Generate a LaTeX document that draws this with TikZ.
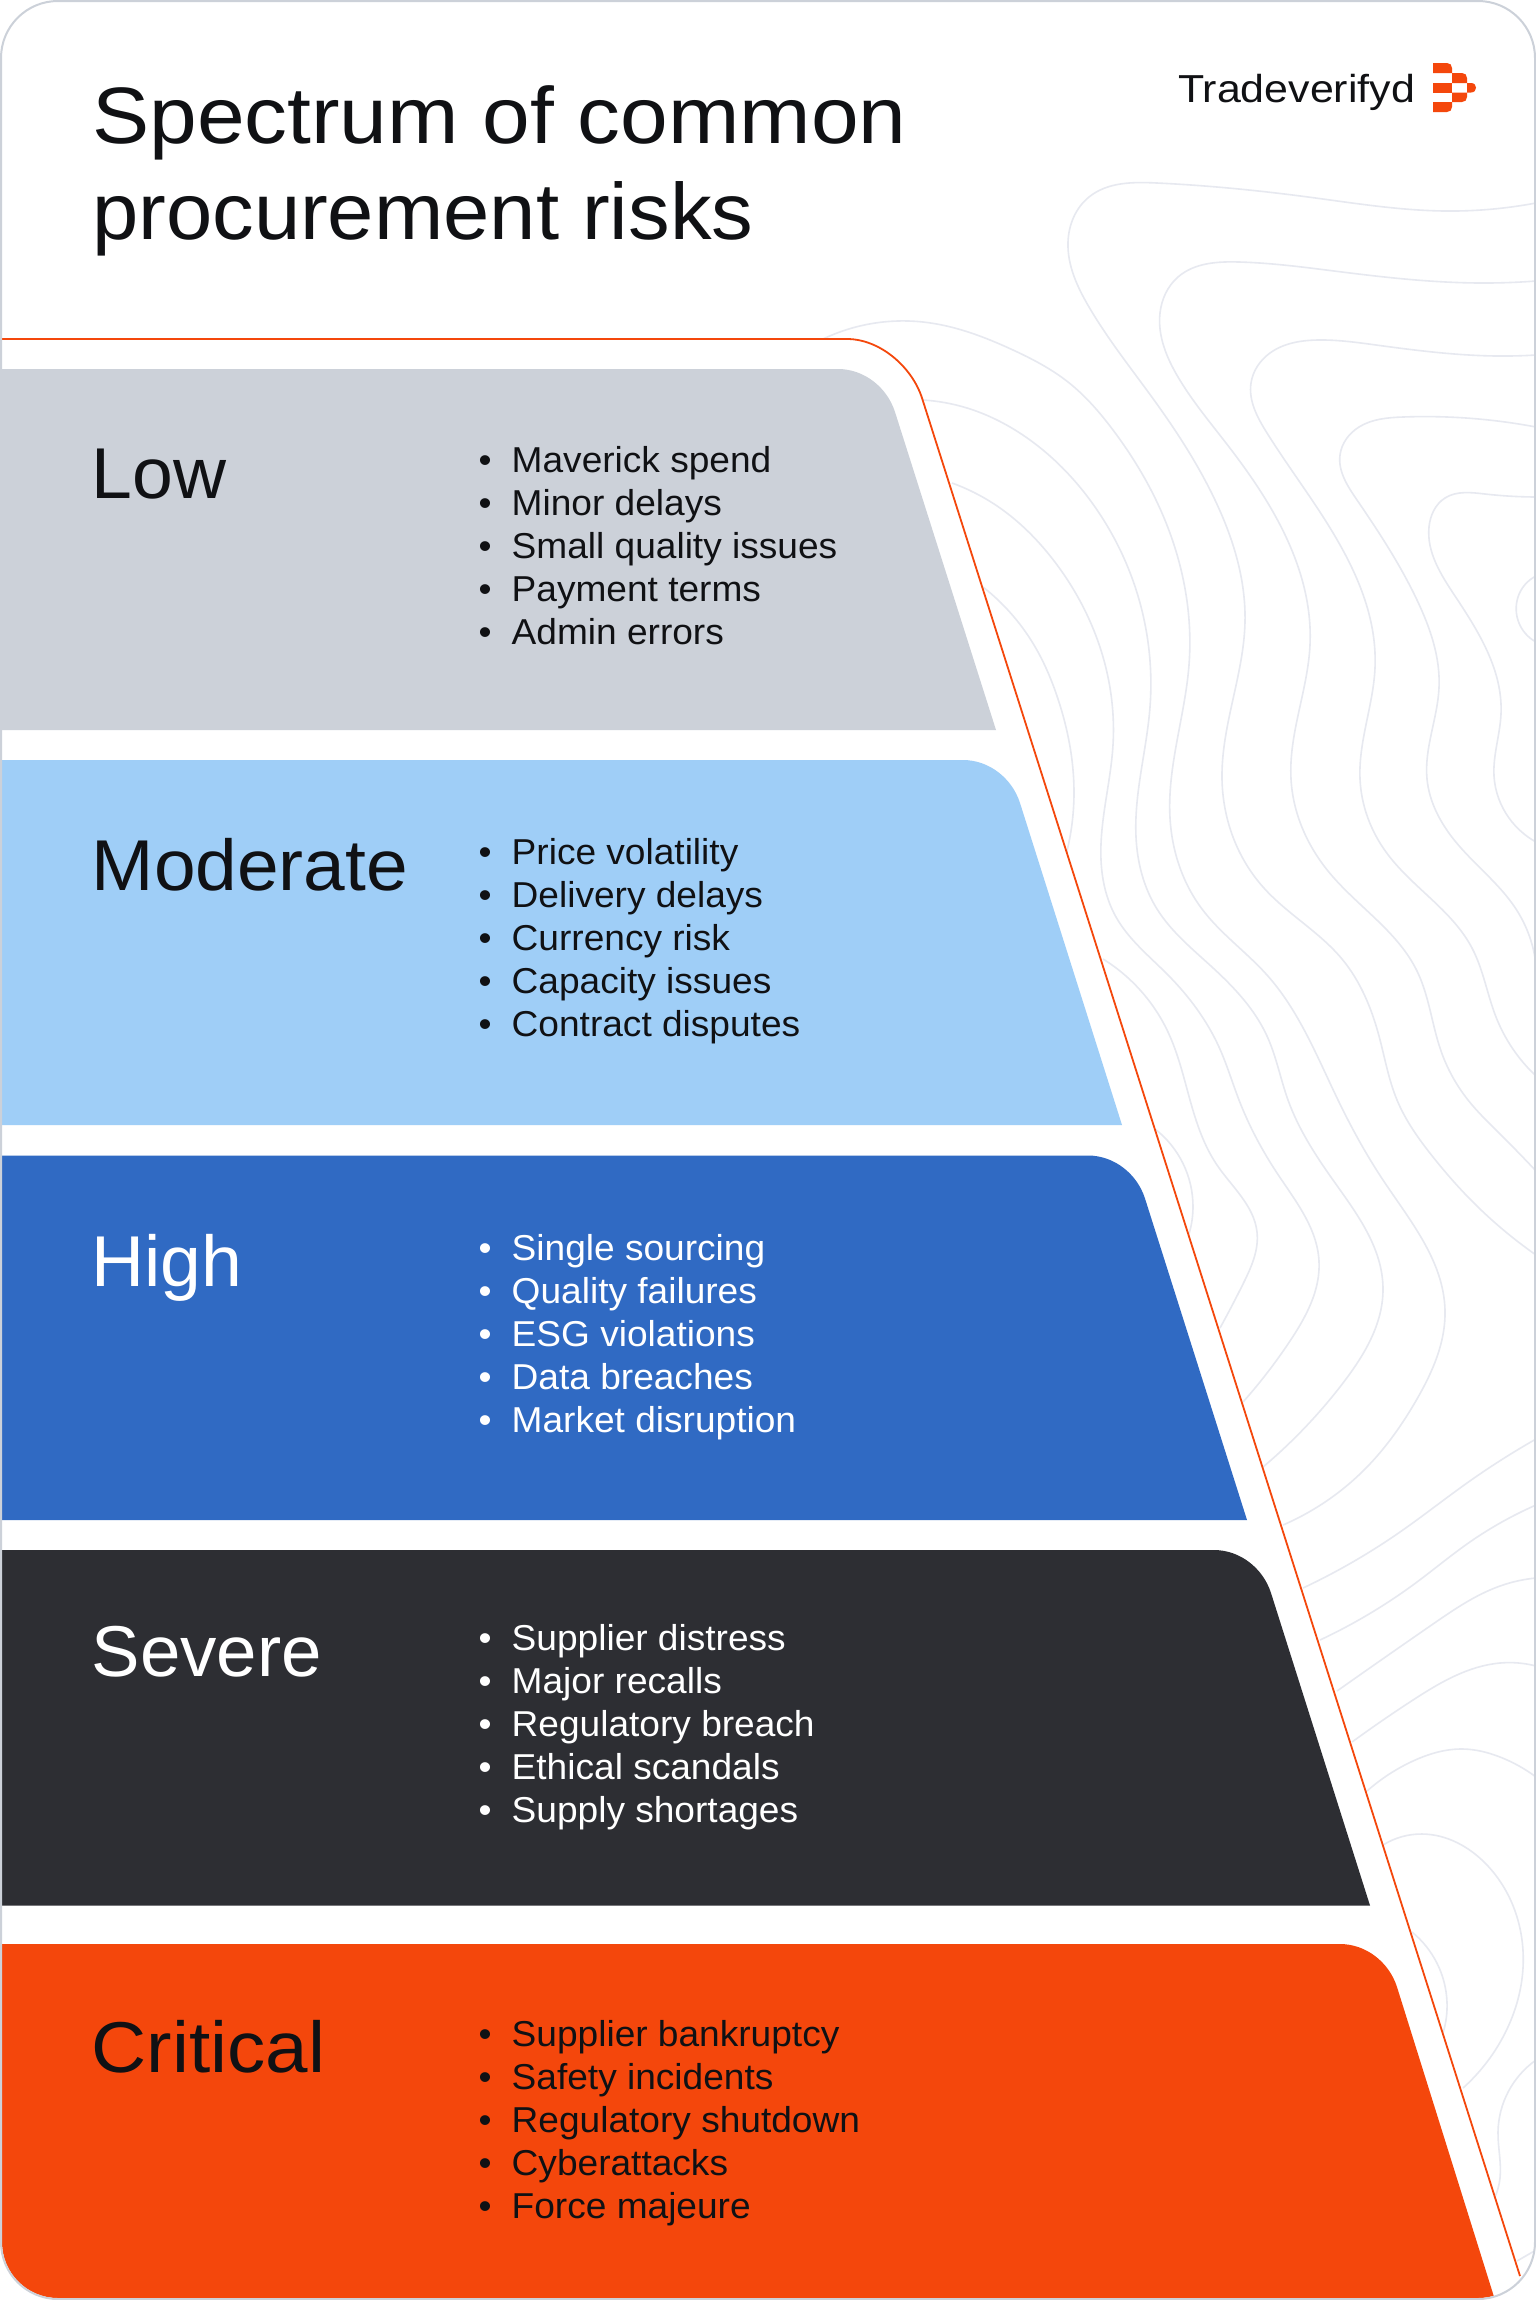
\documentclass[tikz,border=0pt]{standalone}
\usepackage{fontspec}
\usetikzlibrary{hobby}
\setmainfont{Liberation Sans}
\newfontfamily\ttlfont[FakeStretch=1.04]{Liberation Sans}
\newfontfamily\itemfont[FakeStretch=1.03]{Liberation Sans}
\newfontfamily\logofont[FakeStretch=1.10]{Liberation Sans}
\definecolor{ink}{HTML}{101114}
\definecolor{frame}{HTML}{CCD1D9}
\definecolor{contour}{HTML}{E7E9F0}
\definecolor{flame}{HTML}{F4470C}
\definecolor{lowc}{HTML}{CCD1D9}
\definecolor{modc}{HTML}{9FCEF7}
\definecolor{highc}{HTML}{306AC3}
\definecolor{sevc}{HTML}{2D2E33}
\tikzset{
  titletext/.style={anchor=base west,inner sep=0pt,text=ink,font=\ttlfont\fontsize{80}{90}\selectfont},
  headtext/.style={anchor=base west,inner sep=0pt,font=\ttlfont\fontsize{72}{80}\selectfont},
  itemtext/.style={anchor=base west,inner sep=0pt,font=\itemfont\fontsize{36}{40}\selectfont},
  riskbullet/.style={anchor=base,inner sep=0pt,font=\itemfont\fontsize{36}{40}\selectfont},
  logotext/.style={anchor=base west,inner sep=0pt,text=ink,font=\logofont\fontsize{39}{44}\selectfont},
  contourline/.style={draw=contour,line width=1.6pt,use Hobby shortcut},
  edgeline/.style={draw=flame,line width=1.8pt},
}
% colour, top, corner start x, corner end x, corner end y, bottom x, bottom y
\newcommand{\riskpanel}[7]{%
  \fill[#1] (0,#2) -- (#3,#2) .. controls ({#3+26},#2) and ({#4-7.9},{#5-24.8}) .. (#4,#5) -- (#6,#7) -- (0,#7) -- cycle;}
% name, first baseline, stretch of heading, colour, items
\newcommand{\riskblock}[5]{%
  \node[headtext,text=#4] (#1head) at (91.5,{#2+27.5}) {\scalebox{#3}[1]{#1}};
  \foreach \itm [count=\idx] in {#5} {
    \pgfmathsetmacro{\yy}{#2+1+43.2*(\idx-1)}
    \node[riskbullet,text=#4] (#1bullet\idx) at (485,\yy) {•};
    \node[itemtext,text=#4] (#1item\idx) at (511.5,\yy) {\itm};
  }}
\begin{document}
\begin{tikzpicture}[x=1pt,y=-1pt]
\useasboundingbox (0,0) rectangle (1536,2300);
\fill[white] (0,0) rectangle (1536,2300);
\begin{scope}
\clip[rounded corners=56pt] (2,2) rectangle (1534,2298);
% contour background
\draw[contourline] (1536,203) .. (1444,211) .. (1308,197) .. (1157,183) .. (1089,197) .. (1068,242) .. (1089,307) .. (1154,400) .. (1215,500) .. (1245,622) .. (1222,779) .. (1263,887) .. (1342,959) .. (1379,1036) .. (1397,1100) .. (1433,1157) .. (1467,1196) .. (1536,1255);
\draw[contourline] (1536,281) .. (1479,283) .. (1342,272) .. (1239,262) .. (1178,277) .. (1160,313) .. (1178,377) .. (1226,443) .. (1266,500) .. (1310,645) .. (1291,779) .. (1328,871) .. (1417,971) .. (1441,1051) .. (1468,1100) .. (1500,1134) .. (1536,1171);
\draw[contourline] (1536,355) .. (1496,356) .. (1376,345) .. (1318,340) .. (1270,353) .. (1251,383) .. (1267,433) .. (1312,500) .. (1375,668) .. (1360,779) .. (1386,852) .. (1472,948) .. (1496,1017) .. (1536,1076);
\draw[contourline] (1536,427) .. (1403,417) .. (1359,427) .. (1340,455) .. (1357,500) .. (1417,600) .. (1439,688) .. (1427,779) .. (1455,841) .. (1516,909) .. (1536,965);
\draw[contourline] (1536,497) .. (1485,494) .. (1445,498) .. (1429,527) .. (1455,596) .. (1501,714) .. (1494,776) .. (1509,818) .. (1536,842);
\draw[contourline] (1536,576) .. (1518,597) .. (1536,642);
\draw[contourline] (823,339) .. (923,322) .. (1013,350) .. (1068,382) .. (1113,430) .. (1156,500) .. (1189,665) .. (1170,818) .. (1202,909) .. (1267,975) .. (1338,1100) .. (1383,1180) .. (1445,1310) .. (1417,1399) .. (1367,1467) .. (1283,1525);
\draw[contourline] (923,400) .. (967,408) .. (1030,440) .. (1090,500) .. (1150,707) .. (1136,837) .. (1157,909) .. (1212,967) .. (1267,1036) .. (1288,1100) .. (1333,1180) .. (1383,1288) .. (1343,1383) .. (1263,1467);
\draw[contourline] (952,483) .. (1000,508) .. (1051,557) .. (1113,745) .. (1101,860) .. (1116,917) .. (1168,975) .. (1219,1047) .. (1239,1100) .. (1277,1173) .. (1319,1261) .. (1290,1341) .. (1243,1402);
\draw[contourline] (983,587) .. (1034,645) .. (1058,699) .. (1074,791) .. (1066,855);
\draw[contourline] (1103,959) .. (1168,1032) .. (1190,1100) .. (1217,1165) .. (1257,1232) .. (1243,1284) .. (1220,1328);
\draw[contourline] (1155,1129) .. (1193,1207) .. (1187,1240);
\draw[contourline] (1303,1588) .. (1400,1532) .. (1467,1483) .. (1536,1439);
\draw[contourline] (1320,1640) .. (1417,1582) .. (1467,1544) .. (1536,1505);
\draw[contourline] (1337,1691) .. (1433,1624) .. (1500,1586) .. (1536,1578);
\draw[contourline] (1352,1742) .. (1413,1700) .. (1500,1663) .. (1536,1666);
\draw[contourline] (1367,1791) .. (1413,1761) .. (1463,1749) .. (1500,1757) .. (1536,1777);
\draw[contourline] (1383,1845) .. (1422,1834) .. (1487,1865) .. (1523,1968) .. (1503,2037) .. (1463,2088);
\draw[contourline] (1412,1932) .. (1447,2002) .. (1443,2033);
\draw[contourline] (1536,2060) .. (1498,2132) .. (1500,2178) .. (1495,2197);
\draw[contourline] (1517,2261) .. (1536,2250);
% white mask left of the edge line
\fill[white] (0,339) -- (847,339) .. controls (880,339) and (912,367) .. (922,398) -- (1520,2276) -- (1520,2300) -- (0,2300) -- cycle;
% edge line
\draw[edgeline] (0,339) -- (847,339) .. controls (880,339) and (912,367) .. (922,398) -- (1520,2276);
% panels
\riskpanel{lowc}{369}{838}{895}{412}{996}{730}
\riskpanel{modc}{760}{963}{1020}{803}{1122}{1125}
\riskpanel{highc}{1155.5}{1088}{1145}{1198.5}{1247}{1520}
\riskpanel{sevc}{1550}{1214}{1271}{1593}{1370}{1905.5}
\riskpanel{flame}{1944}{1340}{1397}{1987}{1495}{2300}
\end{scope}
% frame
\draw[frame,line width=2pt,rounded corners=57pt] (1,1) rectangle (1535,2299);
% header
\node[titletext] (titleA) at (92,143) {\scalebox{1.03}[1]{Spectrum of common}};
\node[titletext] (titleB) at (92,239) {procurement risks};
\node[logotext] (brand) at (1178,102) {Tradeverifyd};
\fill[flame] (1433,63) -- (1447,63) .. controls (1450,63) and (1452,65) .. (1452,68) -- (1452,73) -- (1433,73) -- cycle;
\fill[flame] (1452,73) -- (1462,73) .. controls (1465,73) and (1467,75) .. (1467,78) -- (1467,83) -- (1452,83) -- cycle;
\fill[flame] (1433,83) rectangle (1452,92.5);
\fill[flame] (1467,83) -- (1471,83) .. controls (1474.5,83) and (1476,85.5) .. (1476,87.7) .. controls (1476,90) and (1474.5,92.5) .. (1471,92.5) -- (1467,92.5) -- cycle;
\fill[flame] (1452,92.5) -- (1467,92.5) -- (1467,97) .. controls (1467,100) and (1465,102) .. (1462,102) -- (1452,102) -- cycle;
\fill[flame] (1433,102) -- (1452,102) -- (1452,107) .. controls (1452,110) and (1450,112) .. (1447,112) -- (1433,112) -- cycle;
% panel texts
\riskblock{Low}{471}{0.98}{ink}{Maverick spend,Minor delays,Small quality issues,Payment terms,Admin errors}
\riskblock{Moderate}{863}{1.0}{ink}{Price volatility,Delivery delays,Currency risk,Capacity issues,Contract disputes}
\riskblock{High}{1259}{0.98}{white}{Single sourcing,Quality failures,ESG violations,Data breaches,Market disruption}
\riskblock{Severe}{1649}{0.97}{white}{Supplier distress,Major recalls,Regulatory breach,Ethical scandals,Supply shortages}
\riskblock{Critical}{2045}{1.02}{ink}{Supplier bankruptcy,Safety incidents,Regulatory shutdown,Cyberattacks,Force majeure}
\end{tikzpicture}
\end{document}
